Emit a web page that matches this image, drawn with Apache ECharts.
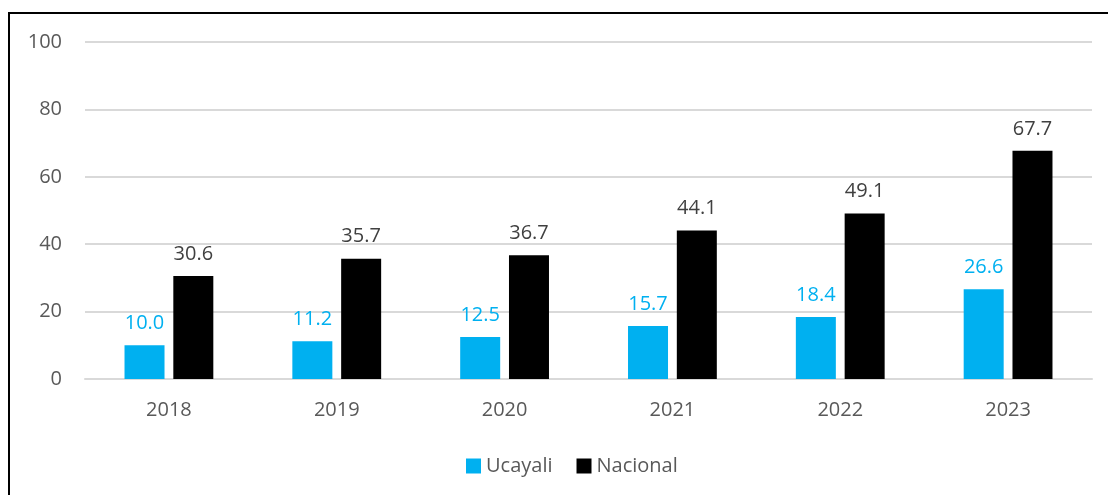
<!DOCTYPE html>
<html>
<head>
<meta charset="utf-8">
<script src="https://cdn.jsdelivr.net/npm/echarts@6/dist/echarts.min.js"></script>
<style>
  html, body { margin: 0; padding: 0; background: #fff; }
  #frame { position: absolute; left: 8px; top: 12px; width: 1110px; height: 490px;
           border-left: 2px solid #000; border-top: 2px solid #000; }
  #main { position: absolute; left: 0; top: 0; width: 1108px; height: 495px; }
</style>
</head>
<body>
<div id="main"></div>
<div id="frame"></div>
<script>
// 年份
const years = ['2018', '2019', '2020', '2021', '2022', '2023'];
// Ucayali
const ucayali = [10.0, 11.2, 12.5, 15.7, 18.4, 26.6];
// Nacional
const nacional = [30.6, 35.7, 36.7, 44.1, 49.1, 67.7];
const yTicks = [0, 20, 40, 60, 80, 100];

let myChart = echarts.init(document.getElementById('main'));

const font = '"Open Sans", "Liberation Sans", sans-serif';

let option = {
    animation: false,
    textStyle: { fontFamily: font },
    grid: { left: 85, right: 16, top: 42, bottom: 116 },
    legend: {
        data: ['Ucayali', 'Nacional'],
        bottom: 14,
        left: 461,
        itemWidth: 15,
        itemHeight: 15,
        itemGap: 24,
        icon: 'rect',
        textStyle: { color: '#595959', fontSize: 20, fontFamily: font }
    },
    xAxis: {
        type: 'category',
        data: years,
        axisLine: { lineStyle: { color: '#d9d9d9', width: 2 } },
        axisTick: { show: false },
        axisLabel: { color: '#595959', fontSize: 20, margin: 21, fontFamily: font }
    },
    yAxis: {
        type: 'value',
        min: yTicks[0],
        max: yTicks[yTicks.length - 1],
        interval: 20,
        axisLine: { show: false },
        axisTick: { show: false },
        axisLabel: { color: '#595959', fontSize: 20, margin: 23, fontFamily: font },
        splitLine: { lineStyle: { color: '#d9d9d9', width: 2 } }
    },
    series: [
        {
            name: 'Ucayali',
            type: 'bar',
            data: ucayali,
            barWidth: 40,
            barGap: '22%',
            itemStyle: { color: '#00b0f0' },
            label: {
                show: true, position: 'top', distance: 12,
                color: '#00b0f0', fontSize: 20, fontFamily: font,
                formatter: p => p.value.toFixed(1)
            }
        },
        {
            name: 'Nacional',
            type: 'bar',
            data: nacional,
            barWidth: 40,
            barGap: '22%',
            itemStyle: { color: '#000000' },
            label: {
                show: true, position: 'top', distance: 12,
                color: '#404040', fontSize: 20, fontFamily: font,
                formatter: p => p.value.toFixed(1)
            }
        }
    ]
};
option && myChart.setOption(option);
</script>
</body>
</html>
